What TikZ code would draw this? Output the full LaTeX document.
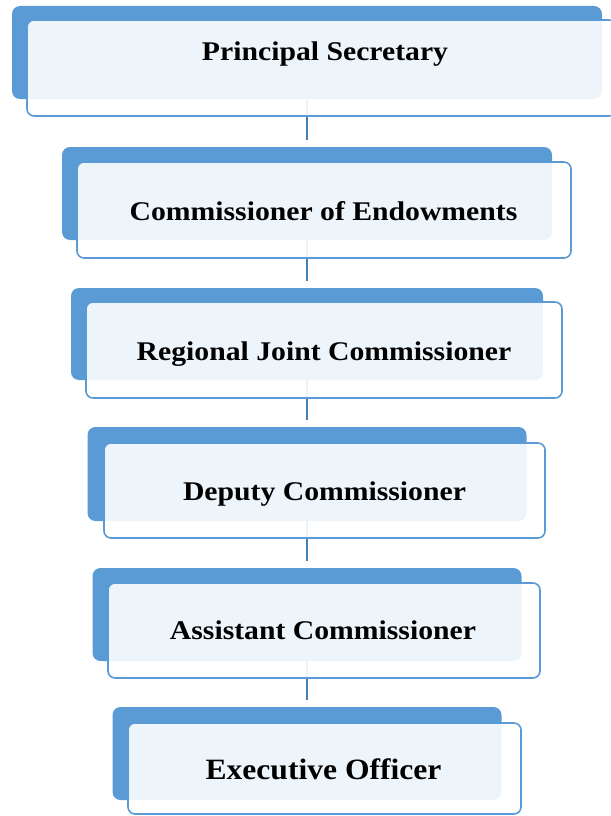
\documentclass[tikz,border=0pt]{standalone}
\usepackage{fontspec}
\setmainfont{Liberation Serif}
\usepackage{graphicx}

\definecolor{tierblue}{RGB}{91,155,213}
\definecolor{linkblue}{RGB}{74,126,187}

\tikzset{
	plate/.style={rectangle, rounded corners=8pt, fill=tierblue, inner sep=0pt},
	card/.style={rectangle, rounded corners=7pt, draw=tierblue, line width=1.6pt,
		fill=white, fill opacity=0.9, inner sep=0pt},
	rank/.style={anchor=base, inner sep=0pt, font=\bfseries\fontsize{27}{30}\selectfont},
	link/.style={draw=linkblue, line width=1.8pt, shorten >=7pt}
}

\begin{document}
\begin{tikzpicture}[x=1pt, y=-1pt]

	\useasboundingbox (0,0) rectangle (610,816);

	% blue plates behind each level
	\node[plate, minimum width=590pt, minimum height=93pt] (psb)  at (307, 52.5)  {};
	\node[plate, minimum width=490pt, minimum height=93pt] (ceb)  at (307, 193.5) {};
	\node[plate, minimum width=472pt, minimum height=92pt] (rjcb) at (307, 334)   {};
	\node[plate, minimum width=439pt, minimum height=94pt] (dcb)  at (307, 474)   {};
	\node[plate, minimum width=429pt, minimum height=93pt] (acb)  at (307, 614.5) {};
	\node[plate, minimum width=389pt, minimum height=93pt] (eob)  at (307, 753.5) {};

	% chain of command
	\draw[link] (psb)  -- (ceb);
	\draw[link] (ceb)  -- (rjcb);
	\draw[link] (rjcb) -- (dcb);
	\draw[link] (dcb)  -- (acb);
	\draw[link] (acb)  -- (eob);

	% light cards on top
	\node[card, minimum width=589pt, minimum height=96pt] (ps)  at (321.5, 68)    {};
	\node[card, minimum width=494pt, minimum height=96pt] (ce)  at (324, 210)     {};
	\node[card, minimum width=476pt, minimum height=96pt] (rjc) at (324, 350)     {};
	\node[card, minimum width=441pt, minimum height=95pt] (dc)  at (324.5, 490.5) {};
	\node[card, minimum width=432pt, minimum height=95pt] (ac)  at (324, 630.5)   {};
	\node[card, minimum width=393pt, minimum height=91pt] (eo)  at (324.5, 768.5) {};

	\node[rank] (pst)  at (325, 60.7)   {\scalebox{1.1}[1]{Principal Secretary}};
	\node[rank] (cet)  at (323.5, 220)  {\scalebox{1.1}[1]{Commissioner of Endowments}};
	\node[rank] (rjct) at (324, 360)    {\scalebox{1.1}[1]{Regional Joint Commissioner}};
	\node[rank] (dct)  at (324.5, 500)  {\scalebox{1.1}[1]{Deputy Commissioner}};
	\node[rank] (act)  at (323, 639.3)  {\scalebox{1.1}[1]{Assistant Commissioner}};
	\node[rank, font=\bfseries\fontsize{29.5}{32}\selectfont] (eot) at (323.5, 779.3)
		{\scalebox{1.07}[1]{Executive Officer}};

\end{tikzpicture}
\end{document}
